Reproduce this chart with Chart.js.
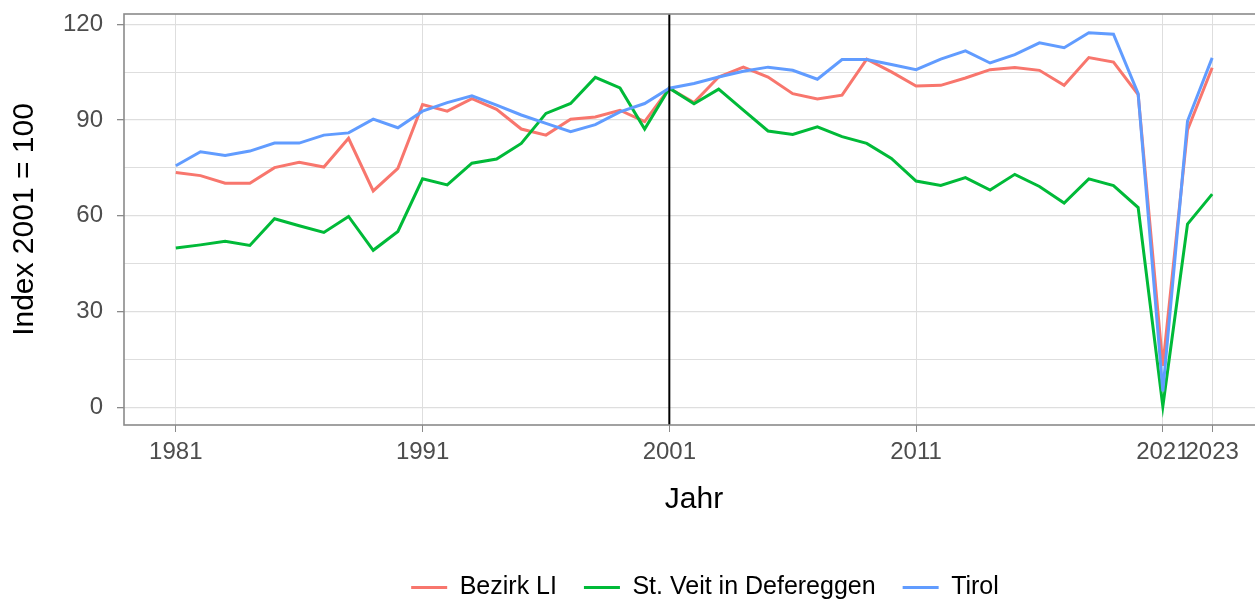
<!DOCTYPE html>
<html>
<head>
<meta charset="utf-8">
<script src="https://cdn.jsdelivr.net/npm/chart.js@4"></script>
<style>
  html, body { margin: 0; padding: 0; overflow: hidden; background: #fff; }
  #wrap { position: absolute; left: 0; top: 0; width: 1275px; height: 610px; }
</style>
</head>
<body>
<div id="wrap"><canvas id="chart" width="1275" height="610"></canvas></div>
<script>
// Daten (Index 2001 = 100)
const years = [1981, 1982, 1983, 1984, 1985, 1986, 1987, 1988, 1989, 1990,
    1991, 1992, 1993, 1994, 1995, 1996, 1997, 1998, 1999, 2000,
    2001, 2002, 2003, 2004, 2005, 2006, 2007, 2008, 2009, 2010,
    2011, 2012, 2013, 2014, 2015, 2016, 2017, 2018, 2019, 2020,
    2021, 2022, 2023];

const bezirkLI = [73.6, 72.6, 70.2, 70.2, 75.1, 76.8, 75.3, 84.3, 67.8, 74.9,
    94.9, 92.8, 96.7, 93.4, 87.2, 85.3, 90.3, 91.0, 93.1, 89.5,
    100, 95.5, 103.5, 106.6, 103.5, 98.3, 96.6, 97.8, 109.1, 105.1,
    100.7, 100.9, 103.2, 105.8, 106.5, 105.6, 100.9, 109.6, 108.2, 98.0,
    13, 86.9, 106.4];

const stVeit = [49.9, 50.9, 52.0, 50.7, 59.1, 56.9, 54.8, 59.8, 49.2, 55.1,
    71.6, 69.7, 76.5, 77.8, 82.7, 92.1, 95.2, 103.4, 100.1, 87.2,
    100, 95.1, 99.7, 93.1, 86.6, 85.5, 87.9, 84.8, 82.7, 78.0,
    70.9, 69.5, 72.0, 68.1, 73.0, 69.2, 64.0, 71.6, 69.5, 62.6,
    0.3, 57.4, 66.8];

const tirol = [75.7, 80.1, 78.9, 80.3, 82.8, 82.8, 85.3, 86.0, 90.3, 87.6,
    92.8, 95.5, 97.6, 94.7, 91.6, 89.0, 86.4, 88.6, 92.6, 95.2,
    100, 101.5, 103.5, 105.3, 106.6, 105.6, 102.8, 109.0, 109.0, 107.4,
    105.8, 109.1, 111.7, 107.9, 110.5, 114.2, 112.7, 117.4, 116.9, 98.3,
    5, 89.7, 109.5];

const xTicks = [1981, 1991, 2001, 2011, 2021, 2023];
const yGrid = [0, 15, 30, 45, 60, 75, 90, 105, 120];
const yLabels = [0, 30, 60, 90, 120];
const referenceYear = 2001;

const seriesNames = ['Bezirk LI', 'St. Veit in Defereggen', 'Tirol'];
const seriesColors = ['#F8766D', '#00BA38', '#619CFF'];

// Achsenbereich wie ggplot (5 % Erweiterung)
const allValues = bezirkLI.concat(stVeit, tirol);
const yLo = Math.min(...allValues), yHi = Math.max(...allValues);
const xLo = years[0], xHi = years[years.length - 1];
const yPad = (yHi - yLo) * 0.05, xPad = (xHi - xLo) * 0.05;

const toPoints = (vals) => vals.map((v, i) => ({ x: years[i], y: v }));

const fontFamily = "'Liberation Sans', Arial, sans-serif";

// Rahmen und senkrechte Linie bei 2001
const panelExtras = {
    id: 'panelExtras',
    afterLayout(chart) {
        // Legende etwas nach rechts, wie im Original
        if (chart.legend) {
            chart.legend.left += 11;
            chart.legend.right += 11;
        }
    },
    afterDatasetsDraw(chart) {
        const { ctx, chartArea: a, scales: { x } } = chart;
        ctx.save();
        const xv = x.getPixelForValue(referenceYear);
        ctx.strokeStyle = '#000';
        ctx.lineWidth = 2;
        ctx.beginPath();
        ctx.moveTo(xv, a.top);
        ctx.lineTo(xv, a.bottom);
        ctx.stroke();
        ctx.strokeStyle = '#8a8a8a';
        ctx.lineWidth = 1.6;
        ctx.strokeRect(a.left, a.top, a.right - a.left, a.bottom - a.top);
        ctx.restore();
    }
};

const chart = document.querySelector('#chart').getContext('2d');

new Chart(chart, {
    type: 'line',
    data: {
        datasets: [bezirkLI, stVeit, tirol].map((vals, i) => ({
            label: seriesNames[i],
            data: toPoints(vals),
            borderColor: seriesColors[i],
            backgroundColor: seriesColors[i],
            borderWidth: 3,
            pointRadius: 0,
            pointStyle: 'line',
            tension: 0,
            order: 2 - i
        }))
    },
    options: {
        responsive: false,
        animation: false,
        layout: { padding: { left: 0, right: 11, top: 14, bottom: 0 } },
        plugins: {
            tooltip: { enabled: false },
            legend: {
                position: 'bottom',
                fullSize: false,
                labels: {
                    usePointStyle: true,
                    pointStyleWidth: 36,
                    boxHeight: 24,
                    padding: 27,
                    color: '#000',
                    font: { family: fontFamily, size: 25 },
                    sort: (a, b) => a.datasetIndex - b.datasetIndex
                }
            }
        },
        scales: {
            x: {
                type: 'linear',
                min: xLo - xPad,
                max: xHi + xPad,
                afterBuildTicks: (scale) => { scale.ticks = xTicks.map(v => ({ value: v })); },
                afterFit: (scale) => { scale.height = 123; },
                border: { display: false },
                grid: { color: '#dedede', lineWidth: 1, tickLength: 7, tickColor: '#8a8a8a' },
                ticks: {
                    autoSkip: false,
                    maxRotation: 0,
                    padding: 6,
                    color: '#4d4d4d',
                    font: { family: fontFamily, size: 24 },
                    callback: (v) => String(v)
                },
                title: {
                    display: true,
                    text: 'Jahr',
                    color: '#000',
                    font: { family: fontFamily, size: 30 },
                    padding: { top: 0, bottom: 30 }
                }
            },
            y: {
                min: yLo - yPad,
                max: yHi + yPad,
                afterBuildTicks: (scale) => { scale.ticks = yGrid.map(v => ({ value: v })); },
                afterFit: (scale) => {
                    scale.width = 124;
                    scale.paddingTop = 0;
                    scale.paddingBottom = 0;
                },
                border: { display: false },
                grid: {
                    color: '#dedede',
                    lineWidth: (c) => yLabels.includes(c.tick.value) ? 1.3 : 1,
                    tickLength: 7,
                    tickColor: (c) => yLabels.includes(c.tick.value) ? '#8a8a8a' : 'rgba(0,0,0,0)'
                },
                ticks: {
                    padding: 14,
                    color: '#4d4d4d',
                    font: { family: fontFamily, size: 24 },
                    callback: (v) => yLabels.includes(v) ? String(v) : ''
                },
                title: {
                    display: true,
                    text: 'Index 2001 = 100',
                    color: '#000',
                    font: { family: fontFamily, size: 30 },
                    padding: { top: 7, bottom: 0 }
                }
            }
        }
    },
    plugins: [panelExtras]
});
</script>
</body>
</html>
